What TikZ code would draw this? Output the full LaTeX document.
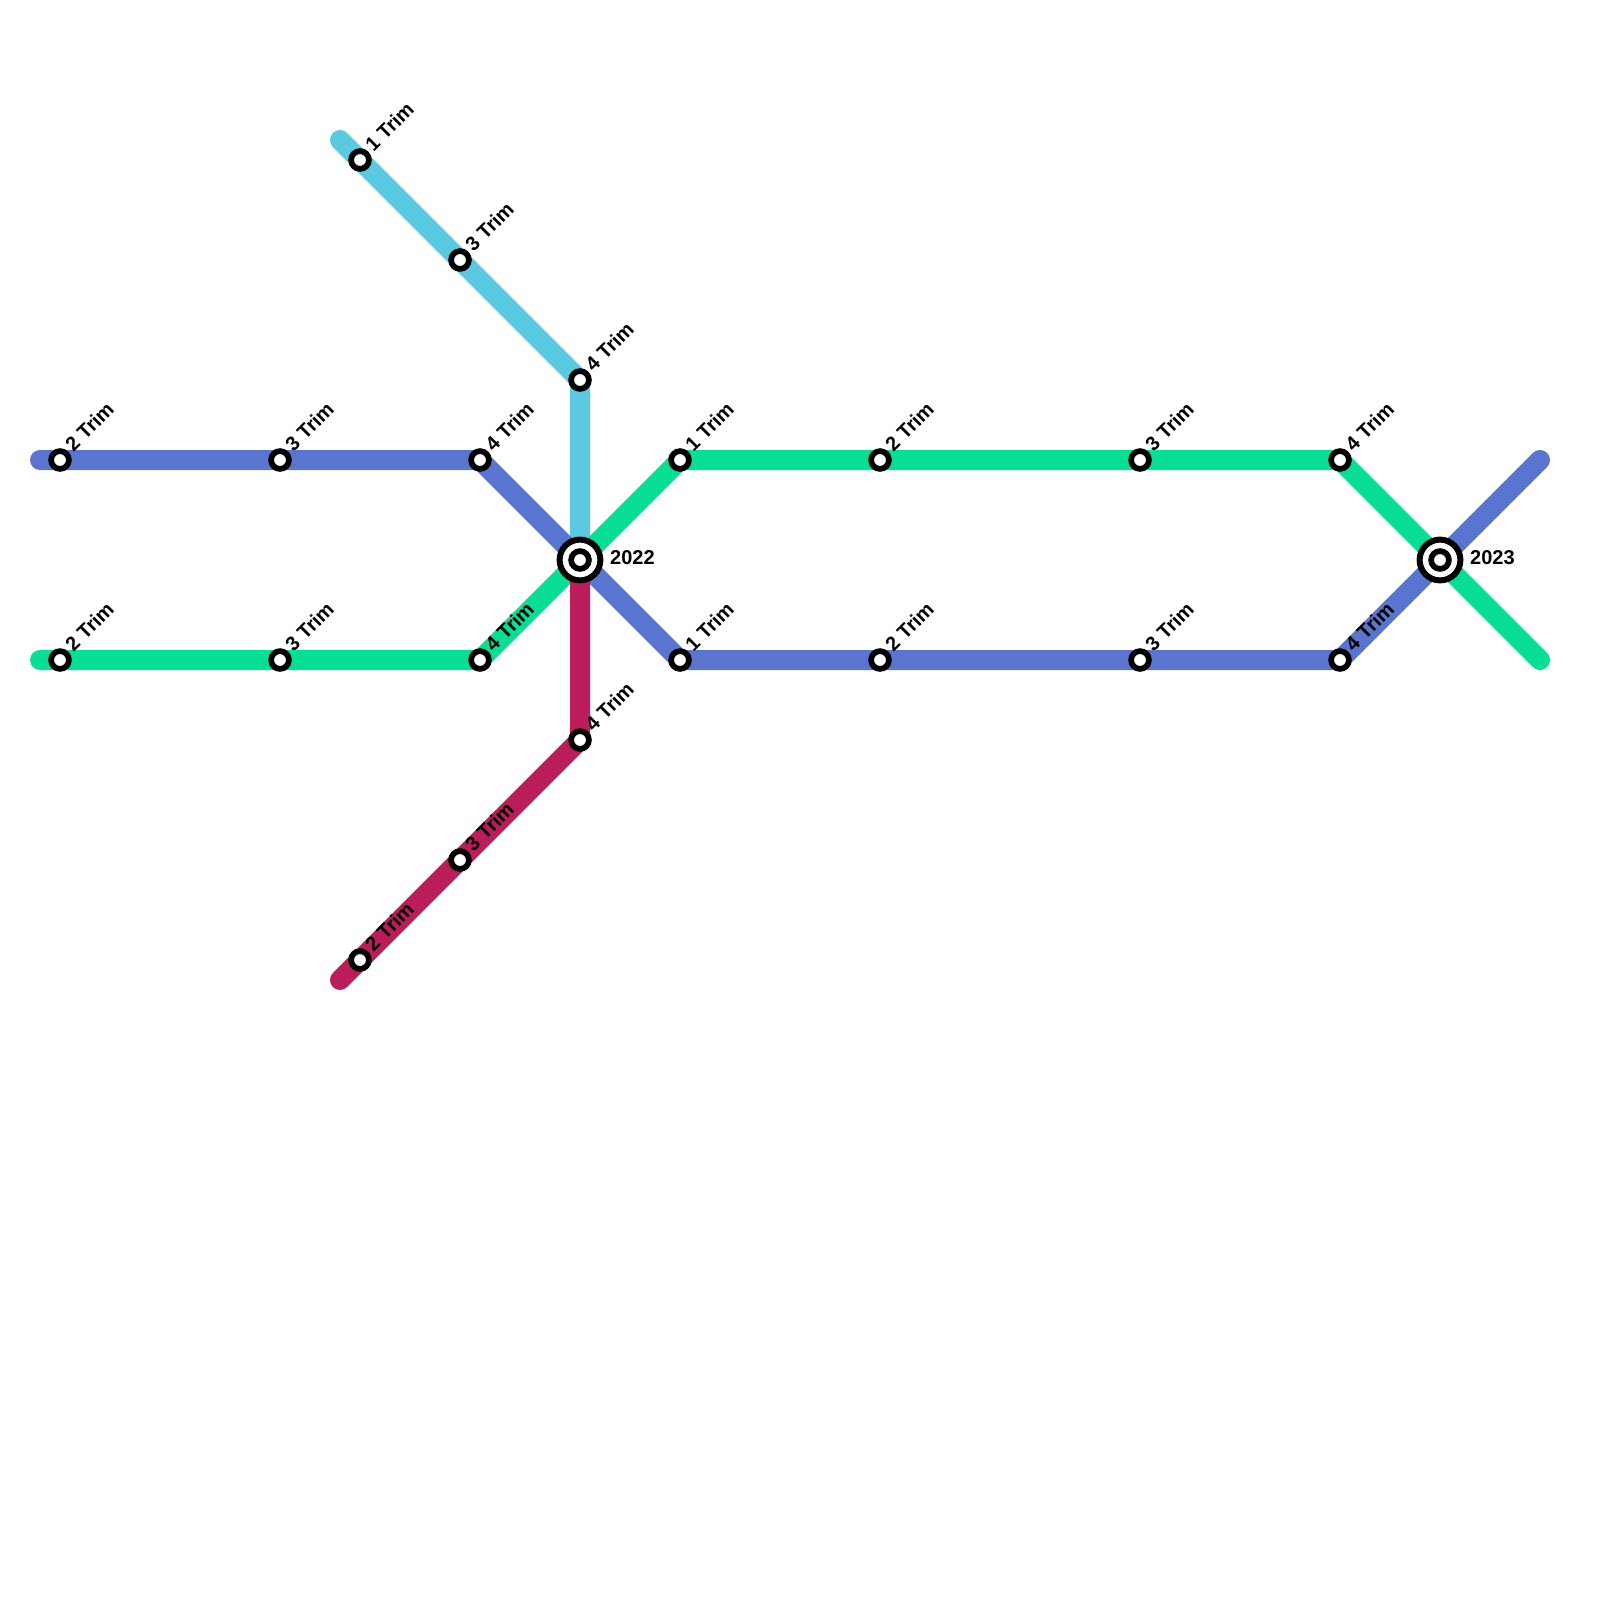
\documentclass[tikz,border=0pt]{standalone}
\usepackage{fontspec}
\setmainfont{Liberation Sans}
\usetikzlibrary{backgrounds}
\definecolor{lineblue}{HTML}{5975D0}
\definecolor{linegreen}{HTML}{08DF94}
\definecolor{linecyan}{HTML}{5BCAE0}
\definecolor{linered}{HTML}{BB1D5B}
\tikzset{
  x=1pt,y=-1pt,
  stop/.style={circle,draw=black,fill=white,line width=5.7pt,inner sep=0pt,minimum size=17.8pt,outer sep=0pt},
  hub/.style={circle,draw=black,fill=white,line width=6pt,inner sep=0pt,minimum size=40.8pt,outer sep=0pt},
  hubcore/.style={stop},
  route/.style={line width=20pt,line cap=round,line join=round},
  lab/.style={font=\fontsize{20}{20}\selectfont\bfseries,text=black,inner sep=0pt,anchor=base west,rotate=45},
  yearlab/.style={font=\fontsize{20}{20}\selectfont\bfseries,text=black,inner sep=0pt,anchor=west},
  labshift/.style={shift={(13.5,-7.5)}},
}
\begin{document}
\begin{tikzpicture}
\useasboundingbox (0,0) rectangle (1600,1600);
% free ends
\coordinate (bs) at (40,460);
\coordinate (be) at (1540,460);
\coordinate (gs) at (40,660);
\coordinate (ge) at (1540,660);
\coordinate (cs) at (340,140);
\coordinate (rs) at (340,980);
% stations
\node[hub] (h22) at (580,560) {};
\node[hubcore] (h22c) at (580,560) {};
\node[hub] (h23) at (1440,560) {};
\node[hubcore] (h23c) at (1440,560) {};
\node[stop] (b1) at (60,460) {};
\node[stop] (b2) at (280,460) {};
\node[stop] (b3) at (480,460) {};
\node[stop] (g1) at (60,660) {};
\node[stop] (g2) at (280,660) {};
\node[stop] (g3) at (480,660) {};
\node[stop] (gt1) at (680,460) {};
\node[stop] (gt2) at (880,460) {};
\node[stop] (gt3) at (1140,460) {};
\node[stop] (gt4) at (1340,460) {};
\node[stop] (bb1) at (680,660) {};
\node[stop] (bb2) at (880,660) {};
\node[stop] (bb3) at (1140,660) {};
\node[stop] (bb4) at (1340,660) {};
\node[stop] (c1) at (360,160) {};
\node[stop] (c2) at (460,260) {};
\node[stop] (c3) at (580,380) {};
\node[stop] (r1) at (580,740) {};
\node[stop] (r2) at (460,860) {};
\node[stop] (r3) at (360,960) {};
% routes
\begin{scope}[on background layer]
\draw[route,linecyan] (cs) -- (c1.center) -- (c2.center) -- (c3.center) -- (h22.center);
\draw[route,lineblue] (bs) -- (b1.center) -- (b2.center) -- (b3.center) -- (h22.center) -- (bb1.center) -- (bb2.center) -- (bb3.center) -- (bb4.center) -- (h23.center) -- (be);
\draw[route,linegreen] (gs) -- (g1.center) -- (g2.center) -- (g3.center) -- (h22.center) -- (gt1.center) -- (gt2.center) -- (gt3.center) -- (gt4.center) -- (h23.center) -- (ge);
\draw[route,linered] (h22.center) -- (r1.center) -- (r2.center) -- (r3.center) -- (rs);
\end{scope}
% labels
\node[lab] (lb1) at ([labshift]b1.center) {2 Trim};
\node[lab] (lb2) at ([labshift]b2.center) {3 Trim};
\node[lab] (lb3) at ([labshift]b3.center) {4 Trim};
\node[lab] (lg1) at ([labshift]g1.center) {2 Trim};
\node[lab] (lg2) at ([labshift]g2.center) {3 Trim};
\node[lab] (lg3) at ([labshift]g3.center) {4 Trim};
\node[lab] (lgt1) at ([labshift]gt1.center) {1 Trim};
\node[lab] (lgt2) at ([labshift]gt2.center) {2 Trim};
\node[lab] (lgt3) at ([labshift]gt3.center) {3 Trim};
\node[lab] (lgt4) at ([labshift]gt4.center) {4 Trim};
\node[lab] (lbb1) at ([labshift]bb1.center) {1 Trim};
\node[lab] (lbb2) at ([labshift]bb2.center) {2 Trim};
\node[lab] (lbb3) at ([labshift]bb3.center) {3 Trim};
\node[lab] (lbb4) at ([labshift]bb4.center) {4 Trim};
\node[lab] (lc1) at ([labshift]c1.center) {1 Trim};
\node[lab] (lc2) at ([labshift]c2.center) {3 Trim};
\node[lab] (lc3) at ([labshift]c3.center) {4 Trim};
\node[lab] (lr1) at ([labshift]r1.center) {4 Trim};
\node[lab] (lr2) at ([labshift]r2.center) {3 Trim};
\node[lab] (lr3) at ([labshift]r3.center) {2 Trim};
\node[yearlab] (l22) at ([shift={(30,-2)}]h22.center) {2022};
\node[yearlab] (l23) at ([shift={(30,-2)}]h23.center) {2023};
\end{tikzpicture}
\end{document}
